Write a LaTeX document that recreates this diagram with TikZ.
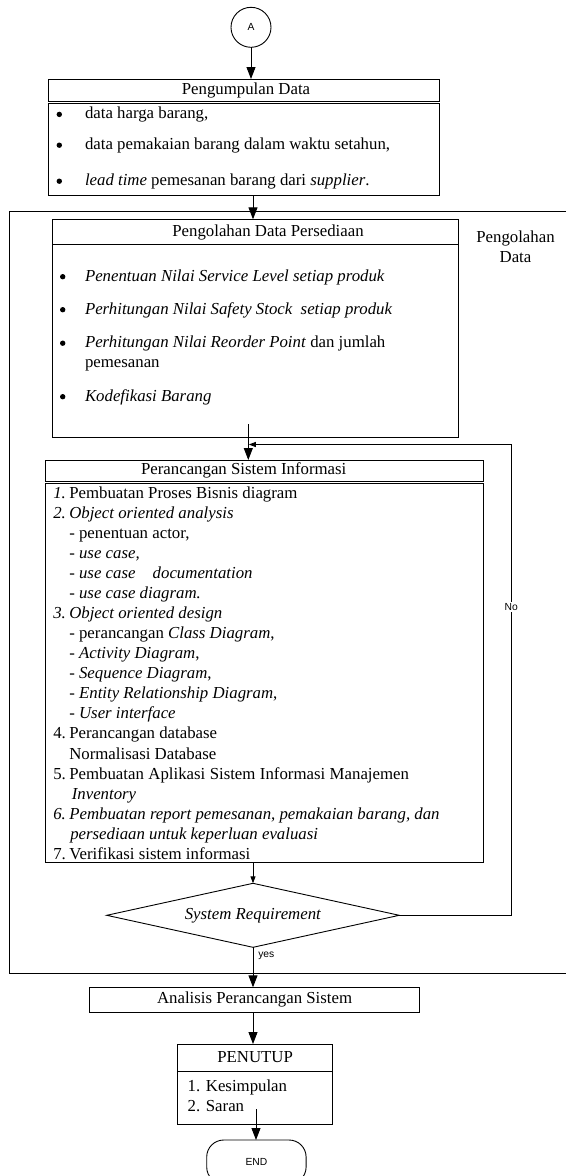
\documentclass[tikz,border=0pt]{standalone}
\usepackage{fontspec}
\setmainfont{Liberation Serif}
\newfontfamily\labelsans{Liberation Sans}
\usetikzlibrary{arrows.meta,shapes.geometric}

% list helper: fixed-width item number
\newcommand\numb[1]{\makebox[16pt][l]{#1}}

\begin{document}
\begin{tikzpicture}[x=1pt,y=-1pt,line width=0.9pt,
  every node/.style={inner sep=0pt,outer sep=0pt,font=\fontsize{16.8pt}{20pt}\selectfont},
  boxframe/.style={draw,anchor=north west},
  txtline/.style={anchor=base west},
  tag/.style={font=\labelsans\fontsize{10.3pt}{12pt}\selectfont},
  big/.style={-{Triangle[length=12pt,width=9pt]}},
  small/.style={-{Triangle[length=7pt,width=5pt]}}]
\useasboundingbox (0,0) rectangle (566,1176);

% off-page connector
\node[draw,circle,minimum size=40pt,tag] (A) at (251,27.3) {A};

% Pengumpulan Data
\node[boxframe,minimum width=390.7pt,minimum height=22.7pt] (pdT) at (48.3,79) {};
\node (pdTt) at (246,90.4) {Pengumpulan Data};
\node[boxframe,minimum width=390.7pt,minimum height=92pt] (pdB) at (48.3,103) {};
\foreach \y in {118.7,149.5,185.5} \fill (59.3,\y-4.3) circle (2.7pt);
\node[txtline] (pd1) at (85,118.7) {data harga barang,};
\node[txtline] (pd2) at (85,149.5) {data pemakaian barang dalam waktu setahun,};
\node[txtline] (pd3) at (85,185.5) {\textit{lead time} pemesanan barang dari \textit{supplier}.};

% processing frame
\draw (566,211.7) -- (9,211.7) -- (9,973.3) -- (566,973.3);
\node[anchor=base] (lblA) at (515.5,242.7) {Pengolahan};
\node[anchor=base] (lblB) at (515.5,262.7) {Data};

% Pengolahan Data Persediaan
\node[boxframe,minimum width=405.7pt,minimum height=24.7pt] (pdpT) at (52.3,219.3) {};
\node (pdpTt) at (268,232) {Pengolahan Data Persediaan};
\node[boxframe,minimum width=405.7pt,minimum height=193.5pt] (pdpB) at (52.3,244) {};
\foreach \y in {281,314,347.5,401} \fill (62.7,\y-4.3) circle (2.7pt);
\node[txtline] (pdp1) at (85,281) {\textit{Penentuan Nilai Service Level setiap produk}};
\node[txtline] (pdp2) at (85,314) {\textit{Perhitungan Nilai Safety Stock\ \ setiap produk}};
\node[txtline] (pdp3) at (85,347.5) {\textit{Perhitungan Nilai Reorder Point} dan jumlah};
\node[txtline] (pdp4) at (85,367.5) {pemesanan};
\node[txtline] (pdp5) at (85,401) {\textit{Kodefikasi Barang}};

% Perancangan Sistem Informasi
\node[boxframe,minimum width=438pt,minimum height=21pt] (psiT) at (45,460) {};
\node (psiTt) at (243.7,470.5) {Perancangan Sistem Informasi};
\node[boxframe,minimum width=438pt,minimum height=379.2pt] (psiB) at (45,483.5) {};
\foreach \t [count=\i from 0] in {
  {\numb{\textit{1.}}Pembuatan Proses Bisnis diagram},
  {\numb{\textit{2.}}\textit{Object oriented analysis}},
  {\numb{}- penentuan actor,},
  {\numb{}- \textit{use case,}},
  {\numb{}- \textit{use case\hspace{13pt} documentation}},
  {\numb{}- \textit{use case diagram.}},
  {\numb{\textit{3.}}\textit{Object oriented design}},
  {\numb{}- perancangan \textit{Class Diagram},},
  {\numb{}- \textit{Activity Diagram},},
  {\numb{}- \textit{Sequence Diagram},},
  {\numb{}- \textit{Entity Relationship Diagram},},
  {\numb{}- \textit{User interface}},
  {\numb{4.}Perancangan database},
  {\numb{}Normalisasi Database},
  {\numb{5.}\makebox[339.7pt][s]{Pembuatan Aplikasi Sistem Informasi Manajemen}},
  {\numb{}\hspace{2.5pt}\textit{Inventory}},
  {\numb{\textit{6.}}\textit{Pembuatan report pemesanan, pemakaian barang, dan}},
  {\numb{}\hspace{1pt}\textit{persediaan untuk keperluan evaluasi}},
  {\numb{7.}Verifikasi sistem informasi}}
  \node[txtline] (psi\i) at (53.3,498.5+\i*20.04) {\t};

% decision
\node[draw,diamond,aspect=4.57,minimum width=292.5pt,minimum height=64pt] (dia) at (253,915.3) {\textit{System Requirement}};

% Analisis Perancangan Sistem
\node[draw,minimum width=330.6pt,minimum height=25pt] (an) at (254.6,999.8) {Analisis Perancangan Sistem};

% PENUTUP
\node[draw,minimum width=154.8pt,minimum height=27pt] (penT) at (255.1,1057.5) {PENUTUP};
\node[boxframe,minimum width=154.8pt,minimum height=53.3pt] (penB) at (177.7,1071) {};
\node[txtline] (pen1) at (187.7,1091) {1. Kesimpulan};
\node[txtline] (pen2) at (187.7,1111) {2. Saran};

% terminator
\node[draw,rounded corners=17pt,minimum width=99.4pt,minimum height=44pt,tag] (end) at (256.4,1162) {END};

% connectors
\coordinate (pdpOut) at (248.3,424);
\coordinate (fbTurn) at (511.3,444.5);
\coordinate (fbIn) at (248.8,444.5);
\coordinate (penOut) at (256,1109.3);
\draw[big] (A.south) -- (A.south |- pdT.north);
\draw[big] (pdB.south -| dia.north) -- (dia.north |- pdpT.north);
\draw[big] (pdpOut) -- (pdpOut |- psiT.north);
\draw[small] (dia.east) -| (fbTurn) -- (fbIn);
\node[tag,fill=white,inner sep=1.5pt] (no) at (511.3,607.3) {No};
\draw[small] (psiB.south -| dia.north) -- (dia.north);
\draw[big] (dia.south) -- (dia.south |- an.north);
\node[tag,anchor=west] (yes) at (258.3,956) {yes};
\draw[big] (an.south -| dia.south) -- (dia.south |- penT.north);
\draw[big] (penOut) -- (penOut |- end.north);
\end{tikzpicture}
\end{document}
